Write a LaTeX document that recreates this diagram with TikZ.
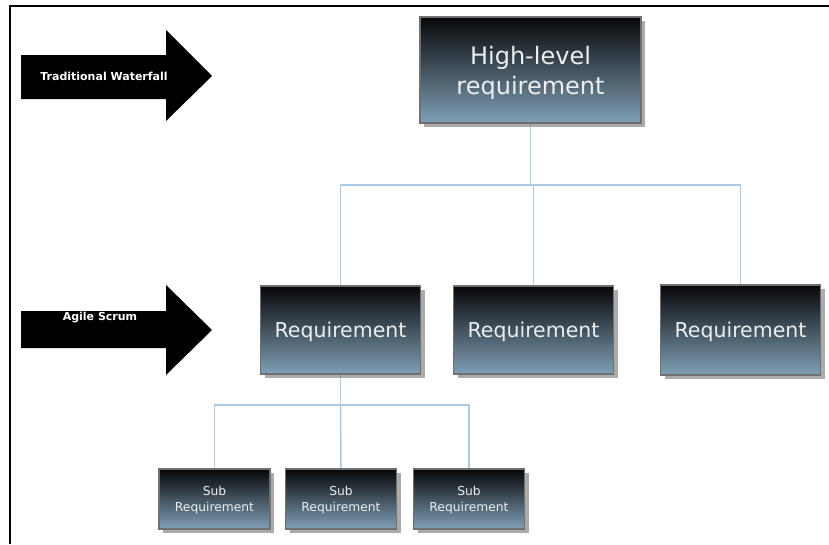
\documentclass[tikz,border=0pt]{standalone}
\usepackage{fontspec}
\setmainfont{DejaVu Sans}
\usetikzlibrary{shadows,backgrounds}
\definecolor{boxtop}{RGB}{6,6,8}
\definecolor{boxmid}{RGB}{42,56,66}
\definecolor{boxbot}{RGB}{128,160,182}
\definecolor{boxedge}{RGB}{112,112,112}
\definecolor{linkblue}{RGB}{172,202,226}
\definecolor{boxtext}{RGB}{236,238,240}
\tikzset{
  reqbox/.style={
    draw=boxedge, line width=1.5pt, rectangle, align=center,
    top color=boxtop, middle color=boxmid, bottom color=boxbot,
    text=boxtext, inner sep=0pt, text depth=0pt,
    drop shadow={shadow xshift=4pt, shadow yshift=-4pt, fill=black!60, opacity=.55}
  },
  toplevel/.style={reqbox, minimum width=221pt, minimum height=106pt,
    font=\fontsize{24}{30}\selectfont},
  midlevel/.style={reqbox, minimum width=160pt, minimum height=88pt,
    font=\fontsize{20.5}{25}\selectfont},
  sublevel/.style={reqbox, minimum width=111pt, minimum height=60pt,
    font=\fontsize{12.3}{15.5}\selectfont},
  link/.style={draw=linkblue, line width=1.5pt},
  bigarrow/.style={fill=black},
  arrowlabel/.style={text=white, font=\bfseries\fontsize{11}{13}\selectfont},
  frameline/.style={line width=2pt, black}
}
\begin{document}
\begin{tikzpicture}[x=1pt, y=-1pt]
  \useasboundingbox (0,0) rectangle (829,544);

  % frame edges
  \draw[frameline] (10,544) -- (10,5.5) -- (829,5.5);

  % level markers
  \fill[bigarrow] (21,55) -- (166,55) -- (166,30) -- (212,76) -- (166,121)
    -- (166,99) -- (21,99) -- cycle;
  \node[arrowlabel] (waterfall) at (104,76) {Traditional Waterfall};
  \fill[bigarrow] (21,311) -- (166,311) -- (166,285) -- (212,330) -- (166,375)
    -- (166,348) -- (21,348) -- cycle;
  \node[arrowlabel] (scrum) at (100,318) {Agile Scrum};

  % requirement tree
  \node[toplevel] (hl) at (530.5,70) {High-level\\requirement};

  \node[midlevel] (r1) at (340.5,330) {Requirement};
  \node[midlevel] (r2) at (533.5,330) {Requirement};
  \node[midlevel, minimum height=90pt] (r3) at (740.5,330) {Requirement};

  \node[sublevel] (s1) at (214.5,499) {Sub\\Requirement};
  \node[sublevel] (s2) at (341,499) {Sub\\Requirement};
  \node[sublevel] (s3) at (469,499) {Sub\\Requirement};

  % connectors sit behind the boxes and their shadows
  \begin{scope}[on background layer]
    \coordinate (bus1) at (530.5,185);
    \draw[link] (hl.south) -- (bus1);
    \draw[link] (r1.north) |- (bus1) -| (r3.north);
    \draw[link] (bus1 -| r2.north) -- (r2.north);

    \coordinate (bus2) at (340.5,405);
    \draw[link] (r1.south) -- (bus2);
    \draw[link] (s1.north) |- (bus2) -| (s3.north);
    \draw[link] (bus2) -- (s2.north);
  \end{scope}
\end{tikzpicture}
\end{document}
